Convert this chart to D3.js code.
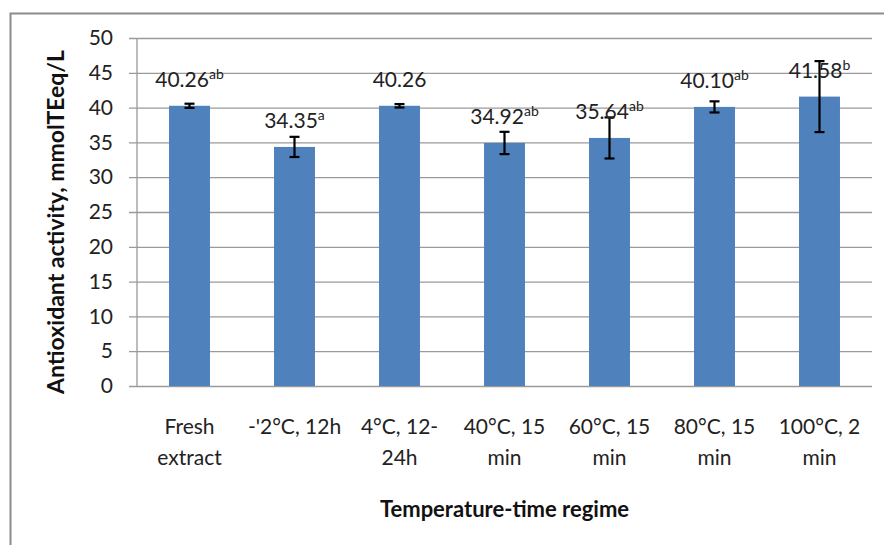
<!DOCTYPE html>
<html>
<meta charset="utf-8">
<script src="https://d3js.org/d3.v7.min.js"></script>
<body style="margin:0;background:#fff">
<script>

var categories = [["Fresh","extract"], ["-'2°C, 12h",""], ["4°C, 12-","24h"], ["40°C, 15","min"], ["60°C, 15","min"], ["80°C, 15","min"], ["100°C, 2","min"]];
var values = [40.26, 34.35, 40.26, 34.92, 35.64, 40.10, 41.58];
var errors = [0.3, 1.45, 0.25, 1.6, 2.95, 0.8, 5.1];
var letters = ["ab", "a", "", "ab", "ab", "ab", "b"];
var yTicks = [0, 5, 10, 15, 20, 25, 30, 35, 40, 45, 50];

var W = 884, H = 545;
var margin = ({top: 38, left: 137, right: 12, bottom: 159});
var font = "Lato, 'Open Sans', sans-serif";

var svg = d3.select("body").append("svg")
  .attr("width", W)
  .attr("height", H)
  .style("font-family", font);

// outer chart border
svg.append("rect")
  .attr("x", 10.5).attr("y", 13.5)
  .attr("width", W).attr("height", H)
  .attr("fill", "none").attr("stroke", "#8c8c8c").attr("stroke-width", 2);

var x = d3.scaleBand()
  .domain(d3.range(categories.length))
  .range([margin.left, W - margin.right])
  .paddingInner(0.61).paddingOuter(0.305);
var y = d3.scaleLinear().domain([0, 50]).range([H - margin.bottom, margin.top]);

// gridlines + ticks
var yAx = d3.axisLeft(y).tickValues(yTicks).tickSize(-(W - margin.right - margin.left)).tickPadding(24);
var yG = svg.append("g").attr("transform", `translate(${margin.left},0)`).call(yAx);
yG.select(".domain").remove();
yG.selectAll("line").attr("stroke", "#9a9a9a").attr("x1", -8).attr("stroke-width", 1.3);
yG.selectAll("text").attr("font-size", 21).attr("fill", "#222").style("font-family", font);

// y axis line
svg.append("line")
  .attr("x1", margin.left).attr("x2", margin.left)
  .attr("y1", y(50)).attr("y2", y(0))
  .attr("stroke", "#9a9a9a").attr("stroke-width", 1.3);

// bars
svg.selectAll("rect.bar")
  .data(values)
  .enter().append("rect")
  .attr("class", "bar")
  .attr("x", (d, i) => x(i))
  .attr("y", d => y(d))
  .attr("width", x.bandwidth())
  .attr("height", d => y(0) - y(d))
  .attr("fill", "#4f81bd");

// error bars
var eb = svg.selectAll("g.err").data(values).enter().append("g").attr("class", "err")
  .attr("stroke", "#000").attr("stroke-width", 2.2);
eb.append("line")
  .attr("x1", (d, i) => x(i) + x.bandwidth() / 2).attr("x2", (d, i) => x(i) + x.bandwidth() / 2)
  .attr("y1", (d, i) => y(d + errors[i])).attr("y2", (d, i) => y(d - errors[i]));
eb.append("line")
  .attr("x1", (d, i) => x(i) + x.bandwidth() / 2 - 5).attr("x2", (d, i) => x(i) + x.bandwidth() / 2 + 5)
  .attr("y1", (d, i) => y(d + errors[i])).attr("y2", (d, i) => y(d + errors[i]));
eb.append("line")
  .attr("x1", (d, i) => x(i) + x.bandwidth() / 2 - 5).attr("x2", (d, i) => x(i) + x.bandwidth() / 2 + 5)
  .attr("y1", (d, i) => y(d - errors[i])).attr("y2", (d, i) => y(d - errors[i]));

// value labels
var lab = svg.selectAll("text.val").data(values).enter().append("text")
  .attr("class", "val")
  .attr("x", (d, i) => x(i) + x.bandwidth() / 2)
  .attr("y", d => y(d) - 19)
  .attr("text-anchor", "middle")
  .attr("font-size", 21)
  .attr("fill", "#222");
lab.append("tspan").text(d => d.toFixed(2));
lab.append("tspan").attr("dy", -8).attr("font-size", 14).text((d, i) => letters[i]);

// category labels
var cat = svg.selectAll("text.cat").data(categories).enter().append("text")
  .attr("class", "cat")
  .attr("text-anchor", "middle")
  .attr("font-size", 21)
  .attr("fill", "#222");
cat.append("tspan")
  .attr("x", (d, i) => x(i) + x.bandwidth() / 2).attr("y", 434)
  .text(d => d[0]);
cat.append("tspan")
  .attr("x", (d, i) => x(i) + x.bandwidth() / 2).attr("y", 465)
  .text(d => d[1]);

// axis titles
svg.append("text")
  .attr("x", (margin.left + W - margin.right) / 2).attr("y", 517)
  .attr("text-anchor", "middle").attr("font-size", 22).attr("font-weight", "bold")
  .attr("fill", "#111")
  .text("Temperature-time regime");
svg.append("text")
  .attr("transform", "translate(64,222) rotate(-90)")
  .attr("text-anchor", "middle").attr("font-size", 23).attr("font-weight", "bold")
  .attr("fill", "#111")
  .text("Antioxidant activity, mmolTEeq/L");
</script>
</body>
</html>
